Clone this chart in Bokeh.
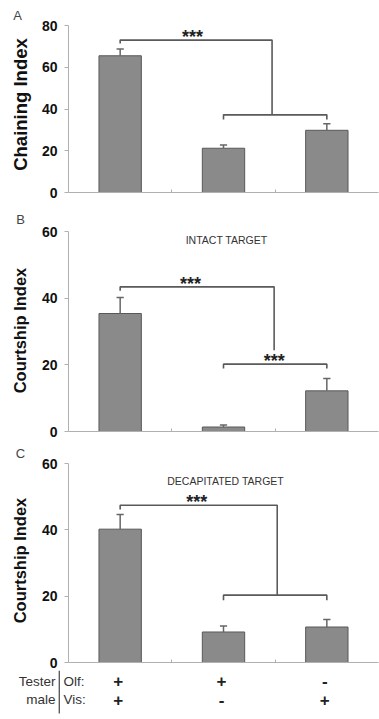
import math
from bokeh.plotting import figure
from bokeh.layouts import column, row
from bokeh.models import Range1d, FixedTicker
from bokeh.core.properties import value
from bokeh.embed import file_html
from bokeh.resources import INLINE

# ---------------- data ----------------
groups = [0.5, 1.5, 2.5]          # three tester-male conditions
olf = ["+", "+", "-"]
vis = ["+", "-", "+"]

chain_mean = [65.5, 21.2, 29.8]
chain_err = [3.3, 1.6, 3.1]

intact_mean = [35.4, 1.35, 12.2]
intact_err = [4.8, 0.6, 3.7]

decap_mean = [40.2, 9.2, 10.7]
decap_err = [4.4, 1.8, 2.3]

# significance brackets
bracketA = dict(top_y=73.0, top_tick=71.4, top_x1=1.97, stem_y=37.2, low_tick=35.0)
bracketB = dict(top_y=43.4, top_tick=42.2, top_x1=1.99, stem_y=24.4, low_y=20.2, low_tick=18.9)
bracketC = dict(top_y=47.4, top_tick=46.1, top_x1=2.02, stem_y=20.3, low_tick=18.8)

panel_letters = ["A", "B", "C"]
y_labels = ["Chaining Index", "Courtship Index", "Courtship Index"]

FONT = "Liberation Sans"
FRAME_W = 310
PPU = FRAME_W / 3.0     # pixels per x unit
STRIP_W = 38
AX_BORDER = 28
LEFT = STRIP_W + AX_BORDER   # frame left in page pixels

BAR_FILL = "#8a8a8a"
BAR_LINE = "#595959"
LINE_C = "#5a5a5a"
AXIS_C = "#b0b0b0"


def panel(mean, err, ymax, yticks, frame_h, top, bottom):
    p = figure(frame_width=FRAME_W, frame_height=frame_h, output_backend="svg", toolbar_location=None,
               x_range=Range1d(0, 3), y_range=Range1d(0, ymax),
               min_border_left=AX_BORDER, min_border_right=3, min_border_top=top, min_border_bottom=bottom)
    p.outline_line_color = None
    p.xgrid.visible = False
    p.ygrid.visible = False

    p.vbar(x=groups, top=mean, width=0.41, bottom=0, fill_color=BAR_FILL, line_color=BAR_LINE, line_width=1)
    tops = [m + e for m, e in zip(mean, err)]
    p.segment(x0=groups, y0=mean, x1=groups, y1=tops, line_color="#666666", line_width=1.5)
    p.segment(x0=[g - 0.035 for g in groups], y0=tops, x1=[g + 0.035 for g in groups], y1=tops,
              line_color="#666666", line_width=1.5)

    ya = p.yaxis[0]
    ya.ticker = FixedTicker(ticks=yticks)
    ya.bounds = (0, ymax)
    ya.axis_line_color = AXIS_C
    ya.major_tick_line_color = AXIS_C
    ya.major_tick_out = 4
    ya.major_tick_in = 0
    ya.minor_tick_line_color = None
    ya.major_label_standoff = 7
    ya.major_label_text_font = FONT
    ya.major_label_text_font_style = "bold"
    ya.major_label_text_font_size = "14px"
    ya.major_label_text_color = "#111111"

    xa = p.xaxis[0]
    xa.ticker = FixedTicker(ticks=[], minor_ticks=[1, 2])
    xa.axis_line_color = AXIS_C
    xa.major_tick_line_color = None
    xa.minor_tick_line_color = AXIS_C
    xa.minor_tick_in = 3
    xa.minor_tick_out = 0
    xa.major_label_standoff = 0
    return p


def stars(p, x, y):
    p.text(x=[x], y=[y], text=["***"], text_font=value(FONT), text_font_style="bold",
           text_font_size="18px", text_color="#222222", text_align="center", text_baseline="middle")


def line(p, xs, ys):
    p.line(x=xs, y=ys, line_color=LINE_C, line_width=1.6)


# ---------- Panel A ----------
pA = panel(chain_mean, chain_err, 80, [0, 20, 40, 60, 80], 167, 25, 13)
b = bracketA
line(pA, [groups[0], groups[0], b["top_x1"], b["top_x1"]], [b["top_tick"], b["top_y"], b["top_y"], b["stem_y"]])
line(pA, [groups[1], groups[1], groups[2], groups[2]], [b["low_tick"], b["stem_y"], b["stem_y"], b["low_tick"]])
stars(pA, 1.2, 74.6)

# ---------- Panel B ----------
pB = panel(intact_mean, intact_err, 60, [0, 20, 40, 60], 200, 26, 14)
b = bracketB
line(pB, [groups[0], groups[0], b["top_x1"], b["top_x1"]], [b["top_tick"], b["top_y"], b["top_y"], b["stem_y"]])
line(pB, [groups[1], groups[1], groups[2], groups[2]], [b["low_tick"], b["low_y"], b["low_y"], b["low_tick"]])
stars(pB, 1.18, 44.3)
stars(pB, 1.99, 21.3)
pB.text(x=[1.53], y=[57.6], text=["INTACT TARGET"], text_font=value(FONT), text_font_size="10.5px",
        text_color="#333333", text_align="center", text_baseline="middle")

# ---------- Panel C ----------
pC = panel(decap_mean, decap_err, 60, [0, 20, 40, 60], 199, 18, 8)
b = bracketC
line(pC, [groups[0], groups[0], b["top_x1"], b["top_x1"]], [b["top_tick"], b["top_y"], b["top_y"], b["stem_y"]])
line(pC, [groups[1], groups[1], groups[2], groups[2]], [b["low_tick"], b["stem_y"], b["stem_y"], b["low_tick"]])
stars(pC, 1.24, 48.4)
pC.text(x=[1.52], y=[54.7], text=["DECAPITATED TARGET"], text_font=value(FONT), text_font_size="10.5px",
        text_color="#333333", text_align="center", text_baseline="middle")

# ---------- left strip: panel letters and y-axis titles (page pixel coordinates) ----------
STRIP_H = 197 + 240 + 225
pS = figure(width=STRIP_W, height=STRIP_H, output_backend="svg", toolbar_location=None,
            x_range=Range1d(0, STRIP_W), y_range=Range1d(STRIP_H, 0), min_border=0)
pS.axis.visible = False
pS.grid.visible = False
pS.outline_line_color = None
pS.text(x=[17, 20, 20], y=[15, 219, 453], text=panel_letters, text_font=value(FONT), text_font_size="13px",
        text_color="#444444", text_align="center", text_baseline="middle")
pS.text(x=[19.5], y=[104], text=[y_labels[0]], angle=math.pi / 2, text_font=value(FONT), text_font_style="bold",
        text_font_size="18.5px", text_color="#111111", text_align="center", text_baseline="middle")
pS.text(x=[19.5, 19.5], y=[330, 560], text=y_labels[1:], angle=math.pi / 2, text_font=value(FONT),
        text_font_style="bold", text_font_size="16.5px", text_color="#111111", text_align="center",
        text_baseline="middle")

# ---------- Genotype table ----------
x0 = -LEFT / PPU
TABLE_H = 49
pT = figure(width=379, height=TABLE_H, output_backend="svg", toolbar_location=None,
            x_range=Range1d(x0, x0 + 379 / PPU), y_range=Range1d(-1.111, 1.611),
            min_border=0)
pT.axis.visible = False
pT.grid.visible = False
pT.outline_line_color = None
rows = [1, 0]
pT.text(x=[-0.106, -0.106], y=rows, text=["Tester", "male"], text_font=value(FONT), text_font_size="13.5px",
        text_color="#333333", text_align="right", text_baseline="middle")
pT.segment(x0=[-0.07], y0=[1.611], x1=[-0.07], y1=[-0.78], line_color="#444444", line_width=1.2)
pT.text(x=[-0.03, -0.03], y=rows, text=["Olf:", "Vis:"], text_font=value(FONT), text_font_size="13.5px",
        text_color="#333333", text_align="left", text_baseline="middle")
pT.text(x=groups, y=[1] * 3, text=olf, text_font=value(FONT), text_font_style="bold", text_font_size="17px",
        text_color="#222222", text_align="center", text_baseline="middle")
pT.text(x=groups, y=[0] * 3, text=vis, text_font=value(FONT), text_font_style="bold", text_font_size="17px",
        text_color="#222222", text_align="center", text_baseline="middle")

layout = column(row(pS, column(pA, pB, pC, spacing=0), spacing=0), pT, spacing=0)
open("out.html", "w").write(file_html(layout, INLINE))
